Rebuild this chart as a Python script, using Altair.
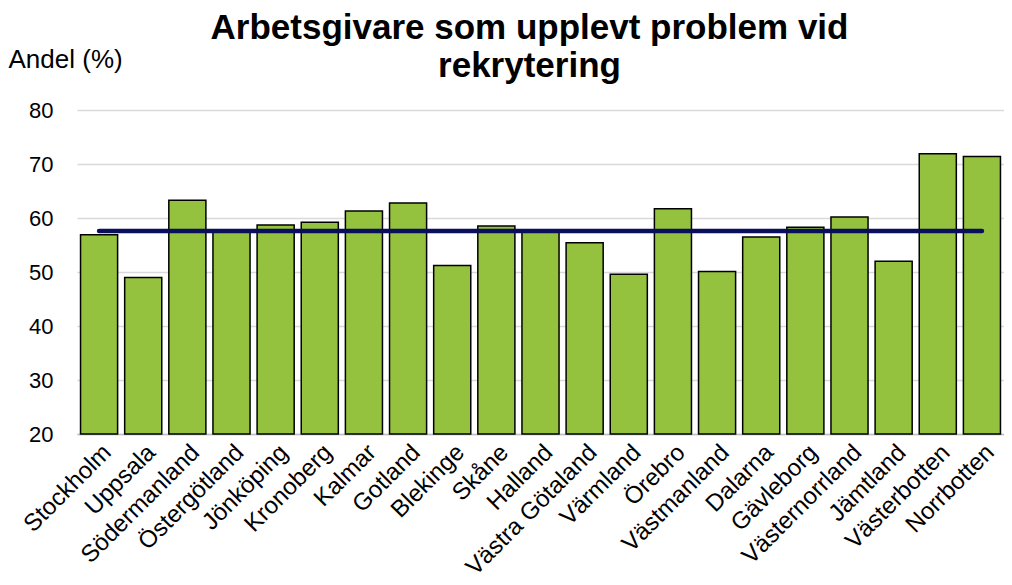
import altair as alt
import pandas as pd

regions = ["Stockholm", "Uppsala", "Södermanland", "Östergötland", "Jönköping",
           "Kronoberg", "Kalmar", "Gotland", "Blekinge", "Skåne", "Halland",
           "Västra Götaland", "Värmland", "Örebro", "Västmanland", "Dalarna",
           "Gävleborg", "Västernorrland", "Jämtland", "Västerbotten", "Norrbotten"]
values = [56.9, 49.0, 63.3, 57.5, 58.7, 59.2, 61.3, 62.8, 51.2, 58.5, 57.6,
          55.4, 49.6, 61.7, 50.1, 56.5, 58.3, 60.2, 52.0, 71.9, 71.4]
riket = 57.6

df = pd.DataFrame({"region": regions, "andel": values, "riket": [riket] * len(regions)})

FONT = "Liberation Sans"

x = alt.X("region:N", sort=regions, title=None,
          scale=alt.Scale(paddingInner=0.16, paddingOuter=0.08),
          axis=alt.Axis(labelAngle=-45, labelAlign="right", labelBaseline="top",
                        labelFontSize=24, labelFont=FONT, labelColor="black",
                        labelLimit=400,
                        ticks=False, domainColor="#BFBFBF", domainWidth=1.5,
                        labelPadding=6, labelOverlap=False))

yscale = alt.Scale(domain=[20, 80], nice=False, zero=False)

bars = alt.Chart(df).mark_bar(color="#94C13E", stroke="black", strokeWidth=1.5).encode(
    x=x,
    y=alt.Y("andel:Q", scale=yscale,
            axis=alt.Axis(values=[20, 30, 40, 50, 60, 70, 80], title="Andel (%)",
                          titleAngle=0, titleAlign="left", titleBaseline="alphabetic",
                          titleX=-69, titleY=-43, titleFontSize=26, titleFont=FONT,
                          titleFontWeight="normal", titleColor="black",
                          labelFontSize=22, labelFont=FONT, labelColor="black",
                          labelPadding=24, ticks=False, domain=False,
                          gridColor="#D9D9D9", gridWidth=1.5)),
    y2=alt.datum(20),
)

line = alt.Chart(df).mark_line(color="#0A0F5C", strokeWidth=4.5, strokeCap="round").encode(
    x=alt.X("region:N", sort=regions),
    y=alt.Y("riket:Q", scale=yscale),
)

chart = (bars + line).properties(
    width=927, height=324,
    padding={"left": 0, "top": 3, "right": 0, "bottom": 0},
    title=alt.TitleParams(["Arbetsgivare som upplevt problem vid", "rekrytering"],
                          font=FONT, fontSize=35, fontWeight="bold", color="black",
                          anchor="middle", lineHeight=38, offset=-38, dx=-11),
).configure_view(stroke=None)

chart.save("out.html", embed_options={"renderer": "svg", "actions": False})
